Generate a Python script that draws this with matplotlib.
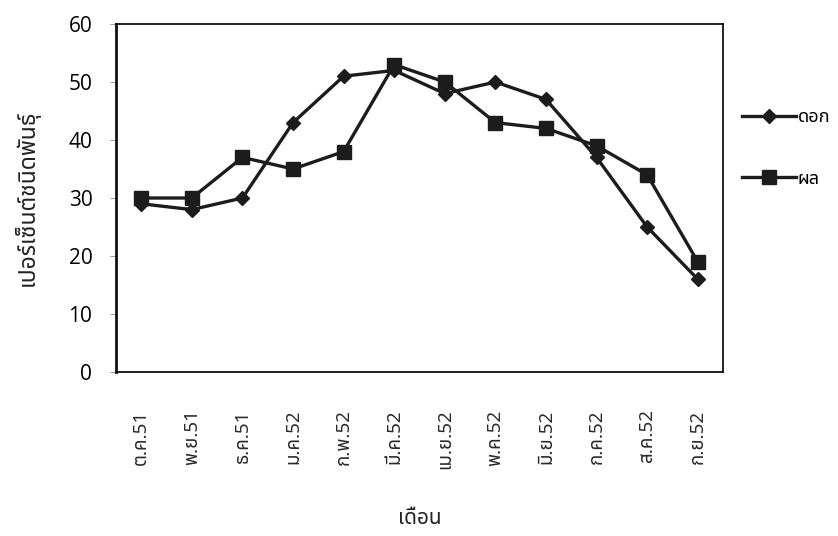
import matplotlib
matplotlib.use("Agg")
import matplotlib.pyplot as plt

# Thai fonts first, DejaVu as last fallback for anything else
thai = ['Noto Sans Thai', 'DejaVu Sans']
plt.rcParams['font.family'] = thai

months = ['ต.ค.51', 'พ.ย.51', 'ธ.ค.51', 'ม.ค.52', 'ก.พ.52', 'มี.ค.52',
          'เม.ย.52', 'พ.ค.52', 'มิ.ย.52', 'ก.ค.52', 'ส.ค.52', 'ก.ย.52']
flower = [29, 28, 30, 43, 51, 52, 48, 50, 47, 37, 25, 16]
fruit = [30, 30, 37, 35, 38, 53, 50, 43, 42, 39, 34, 19]
yticks = [0, 10, 20, 30, 40, 50, 60]

ink = '#1c1c1c'

fig = plt.figure(figsize=(8.38, 5.36), dpi=100)
ax = fig.add_axes([0.1384, 0.306, 0.7244, 0.6492])

x = range(len(months))
ax.plot(x, flower, color=ink, lw=2.4, marker='D', ms=7.5, label='ดอก')
ax.plot(x, fruit, color=ink, lw=2.4, marker='s', ms=10.5, label='ผล')

ax.set_xlim(-0.5, len(months) - 0.5)
ax.set_ylim(0, 60)
ax.set_yticks(yticks)
ax.set_yticklabels([str(v) for v in yticks], family=['Open Sans', 'DejaVu Sans'])
ax.set_xticks(list(x))
ax.set_xticklabels(months, rotation=90, fontsize=13.5, color='#2a2a2a',
                   fontweight='light')

ax.tick_params(axis='y', direction='out', length=4, width=0.6, color='#888888',
               labelsize=15, pad=13)
ax.tick_params(axis='x', length=0, pad=27)

for side in ['left', 'bottom', 'top', 'right']:
    ax.spines[side].set_linewidth(1.3)
    ax.spines[side].set_color('#111111')
ax.spines['left'].set_linewidth(2.0)

ax.set_ylabel('เปอร์เซ็นต์ชนิดพันธุ์', fontsize=16.5, color='#222222')
ax.yaxis.set_label_coords(-0.125, 0.5)
ax.set_xlabel('เดือน', fontsize=15, color='#222222')
ax.xaxis.set_label_coords(0.5, -0.39)

ax.legend(loc='center left', bbox_to_anchor=(0.866, 0.724), bbox_transform=fig.transFigure,
          frameon=False, fontsize=13, handlelength=3.0, handletextpad=0.1,
          labelspacing=2.4)

fig.savefig('out.png', dpi=100)
